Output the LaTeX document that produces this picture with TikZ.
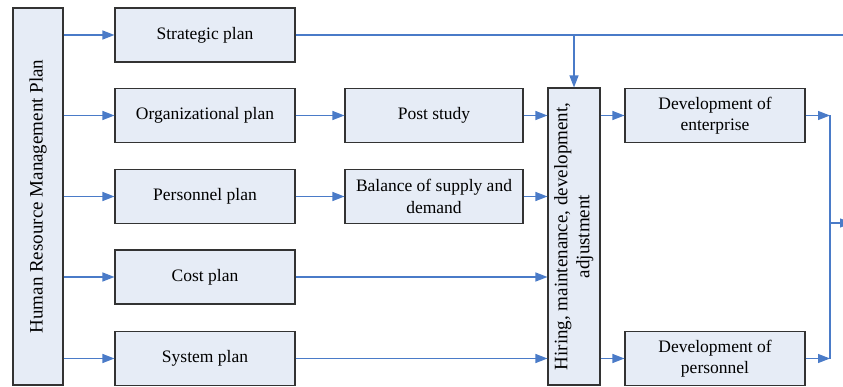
\documentclass[tikz,border=0pt]{standalone}
\usepackage{fontspec}
\setmainfont{Liberation Serif}
\usetikzlibrary{arrows.meta}
\definecolor{boxfill}{HTML}{E6ECF6}
\definecolor{linkblue}{HTML}{4A7BC8}
\begin{document}
\begin{tikzpicture}[x=1pt,y=-1pt,
    box/.style={draw=black!80,fill=boxfill,line width=1.1pt,inner sep=0pt,
      font=\fontsize{17.5}{21.5}\selectfont,align=center},
    planbox/.style={box,minimum width=180pt,minimum height=54pt},
    tallbox/.style={box,font=\fontsize{19}{22}\selectfont},
    line/.style={draw=linkblue,line width=1.2pt},
    link/.style={line,-{Triangle[length=12pt,width=9pt]}}]
  \useasboundingbox (0,0) rectangle (843,387);
  % left column
  \node[tallbox,minimum width=50pt,minimum height=377pt](hrm) at (38,196.5)
    {\rotatebox{90}{Human Resource Management Plan}};
  % plans
  \node[planbox](strat) at (205,35){Strategic plan};
  \node[planbox](org) at (205,115.5){Organizational plan};
  \node[planbox](pers) at (205,196.5){Personnel plan};
  \node[planbox](cost) at (205,277){Cost plan};
  \node[planbox](sys) at (205,358.5){System plan};
  % middle
  \node[planbox,minimum width=178pt](post) at (434,115.5){Post study};
  \node[planbox,minimum width=178pt](bal) at (434,196.5){Balance of supply and\\demand};
  \node[tallbox,minimum width=52pt,minimum height=297pt](hire) at (574,236.5)
    {\rotatebox{90}{\begin{tabular}{@{}c@{}}Hiring, maintenance, development,\\adjustment\end{tabular}}};
  % results
  \node[planbox](devent) at (715,115.5){Development of\\enterprise};
  \node[planbox](devpers) at (715,358.5){Development of\\personnel};
  \coordinate (stratend) at (843,35);
  \coordinate (join) at (830,223);
  \coordinate (out) at (852,223);
  % connectors
  \foreach \p in {strat,org,pers,cost,sys}
    \draw[link] (hrm.east |- \p.west) -- (\p.west);
  \draw[line] (strat.east) -- (stratend);
  \draw[link] (hire.north |- strat.east) -- (hire.north);
  \draw[link] (org) -- (post);
  \draw[link] (pers) -- (bal);
  \draw[link] (post.east) -- (hire.west |- post.east);
  \draw[link] (bal.east) -- (hire.west |- bal.east);
  \draw[link] (cost.east) -- (hire.west |- cost.east);
  \draw[link] (sys.east) -- (hire.west |- sys.east);
  \draw[link] (hire.east |- devent.west) -- (devent.west);
  \draw[link] (hire.east |- devpers.west) -- (devpers.west);
  \draw[link] (devent.east) -- (devent.east -| join);
  \draw[link] (devpers.east) -- (devpers.east -| join);
  \draw[line] (devent.east -| join) -- (devpers.east -| join);
  \draw[link] (join) -- (out);
\end{tikzpicture}
\end{document}
